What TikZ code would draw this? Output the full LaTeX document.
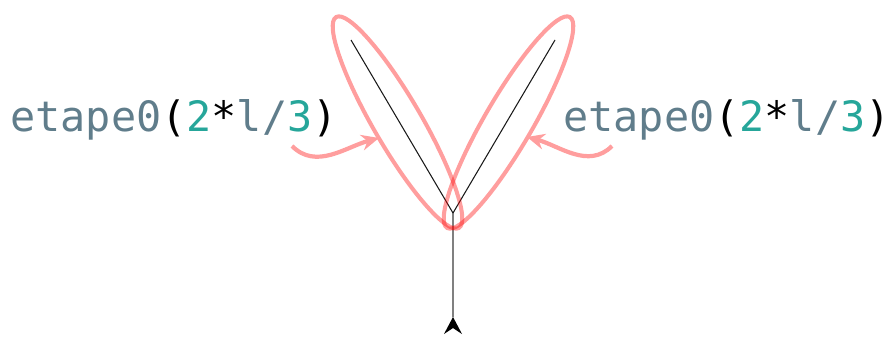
\documentclass[tikz,border=0pt]{standalone}
\usepackage{fontspec}
\setmonofont{DejaVu Sans Mono}
\usetikzlibrary{arrows.meta}
\definecolor{identgray}{HTML}{607D8B}
\definecolor{numteal}{HTML}{26A69A}
\newcommand{\etapecall}{\fontsize{23.8}{28}\selectfont\ttfamily\textcolor{identgray}{etape0}(\textcolor{numteal}{2}*\textcolor{identgray}{l/}\textcolor{numteal}{3})}

\begin{document}
\begin{tikzpicture}[x=0.02cm, y=0.02cm,
    halo/.style={red, draw opacity=0.38, line width=2.3pt},
    pointer/.style={red!38, line width=2.4pt, -{Stealth[length=10pt, width=9pt]}}]
        \useasboundingbox (0,0) rectangle (892,336);
        \coordinate (base) at (453,19);
        \coordinate (fork) at (453,123);
        \coordinate (tipL) at (351,296);
        \coordinate (tipR) at (555,296);
        \draw[black!50, line width=1.2pt] (base) -- (fork);
        \draw[black!90, line width=0.6pt] (fork) -- (tipL);
        \draw[black!90, line width=0.6pt] (fork) -- (tipR);
        \fill (base) -- ++(9,-17) -- ++(-9,6) -- ++(-9,-6) -- cycle;
        \draw[halo, rotate around={120.2:(397.5,213.5)}] (397.5,213.5) ellipse [x radius=122, y radius=24];
        \draw[halo, rotate around={59.8:(508.5,213.5)}] (508.5,213.5) ellipse [x radius=122, y radius=24];
        \node[anchor=base west, inner sep=0] (labelL) at (10,205) {\etapecall};
        \node[anchor=base west, inner sep=0] (labelR) at (563,205) {\etapecall};
        \coordinate (hookL) at (292,190);
        \coordinate (aimL) at (379,198);
        \coordinate (hookR) at (612,190);
        \coordinate (aimR) at (527,199);
        \draw[pointer] (hookL) to[out=-45, in=195] (aimL);
        \draw[pointer] (hookR) to[out=-135, in=-15] (aimR);
    \end{tikzpicture}
\end{document}
